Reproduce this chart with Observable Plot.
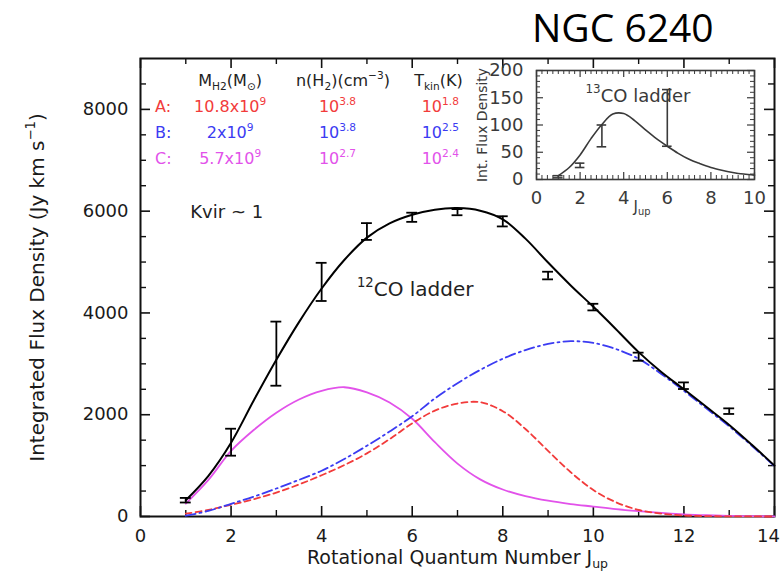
<!DOCTYPE html>
<html>
<head>
<meta charset="utf-8">
<script src="https://cdn.jsdelivr.net/npm/d3@7"></script>
<script src="https://cdn.jsdelivr.net/npm/@observablehq/plot@0.6"></script>
<style>
  body { margin: 0; background: #fff; }
  #wrap { position: relative; width: 784px; height: 572px; overflow: hidden; }
  #main { position: absolute; left: 0; top: 0; }
  #inset { position: absolute; left: 470px; top: 58px; }
  #title { position: absolute; left: 532px; top: 0; margin: 0; font-family: "Open Sans", sans-serif;
           font-weight: 400; font-size: 39px; line-height: normal; color: #000; }
</style>
</head>
<body>
<div id="wrap">
  <div id="main"></div>
  <div id="inset"></div>
  <h1 id="title">NGC 6240</h1>
</div>
<script>
// ---- 12CO ladder: measured line fluxes (Jy km/s) ----
const Jobs = [1, 2, 3, 4, 5, 6, 7, 8, 9, 10, 11, 12, 13];
const flux12 = [320, 1460, 3200, 4610, 5600, 5880, 5980, 5800, 4735, 4115, 3140, 2570, 2070];
const err12 = [45, 265, 630, 375, 165, 90, 60, 100, 75, 65, 80, 65, 55];

// ---- LVG model curves on a common J grid ----
const Jgrid = [1, 1.5, 2, 2.5, 3, 3.5, 4, 4.5, 5, 5.5, 6, 6.5, 7, 7.5, 8, 8.5, 9, 9.5, 10, 10.5, 11, 11.5, 12, 12.5, 13, 13.5, 14];
const fitTotal = [320, 800, 1450, 2280, 3080, 3820, 4480, 5040, 5480, 5760, 5930, 6030, 6060, 6010, 5840, 5460, 4990, 4540, 4120, 3680, 3230, 2840, 2500, 2150, 1800, 1410, 1000];
const fitA = [55, 130, 230, 340, 470, 630, 810, 1010, 1240, 1520, 1830, 2080, 2220, 2245, 2070, 1720, 1290, 870, 520, 280, 130, 55, 20, 8, 3, 1, 0];
const fitB = [15, 110, 250, 390, 550, 720, 900, 1130, 1390, 1670, 1970, 2320, 2620, 2880, 3100, 3270, 3390, 3445, 3410, 3290, 3100, 2800, 2470, 2120, 1770, 1390, 990];
const fitC = [255, 720, 1290, 1700, 2040, 2300, 2470, 2540, 2440, 2240, 1920, 1460, 1040, 730, 530, 400, 310, 245, 195, 145, 105, 70, 40, 25, 12, 6, 3];

// ---- model components ----
const compLabels = ["A:", "B:", "C:"];
const compMass = ["10.8x10^{9}", "2x10^{9}", "5.7x10^{9}"];
const compDensity = ["10^{3.8}", "10^{3.8}", "10^{2.7}"];
const compTkin = ["10^{1.8}", "10^{2.5}", "10^{2.4}"];
const compColors = ["#f23b3b", "#3b3bf2", "#e252ea"];
const headerLabels = ["M_{H2}(M_{⊙})", "n(H_{2})(cm^{−3})", "T_{kin}(K)"];

// ---- 13CO ladder (inset) ----
const Jobs13 = [1, 2, 3, 6];
const flux13 = [5, 26, 80, 113];
const err13 = [2, 4, 20, 52];
const Jgrid13 = [1, 1.5, 2, 2.5, 3, 3.5, 4, 4.5, 5, 5.5, 6, 6.5, 7, 7.5, 8, 8.5, 9, 9.5, 10];
const fit13 = [7, 22, 45, 75, 101, 120, 121, 108, 91, 75, 61, 48, 37, 29, 22, 17, 13, 10, 8];

// ---- axis ticks ----
const xMajorTicks = [0, 2, 4, 6, 8, 10, 12, 14];
const xMinorTicks = [1, 3, 5, 7, 9, 11, 13];
const yMajorTicks = [0, 2000, 4000, 6000, 8000];
const yMinorTicks = [500, 1000, 1500, 2500, 3000, 3500, 4500, 5000, 5500, 6500, 7000, 7500, 8500];
const insetXTicks = [0, 2, 4, 6, 8, 10];
const insetYTicks = [0, 50, 100, 150, 200];

const titleY = "Integrated Flux Density (Jy km s^{−1})";
const titleX = "Rotational Quantum Number J_{up}";

// ---------------------------------------------------------------
const points12 = Jobs.map((J, i) => ({J, flux: flux12[i], err: err12[i]}));
const series = (ys) => Jgrid.map((J, i) => ({J, v: ys[i]}));
const points13 = Jobs13.map((J, i) => ({J, flux: flux13[i], err: err13[i]}));
const curve13 = Jgrid13.map((J, i) => ({J, v: fit13[i]}));

const FONT = "DejaVu Sans";
const plain = d => String(d);

// inward box ticks on all four sides of a frame
function boxTicks(xs, ys, fw, fh, len, color, sw) {
  return [
    Plot.ruleX(xs, {stroke: color, strokeWidth: sw, insetTop: fh - len}),
    Plot.ruleX(xs, {stroke: color, strokeWidth: sw, insetBottom: fh - len}),
    Plot.ruleY(ys, {stroke: color, strokeWidth: sw, insetRight: fw - len}),
    Plot.ruleY(ys, {stroke: color, strokeWidth: sw, insetLeft: fw - len})
  ];
}

// turn ^{...} and _{...} into raised / lowered tspans
function richText(root) {
  root.querySelectorAll("text").forEach(t => {
    const s = t.textContent;
    if (!/[\^_]\{/.test(s)) return;
    const fs = parseFloat(getComputedStyle(t).fontSize) || 16;
    while (t.firstChild) t.removeChild(t.firstChild);
    const re = /([\^_])\{([^}]*)\}/g;
    let last = 0, m, shift = 0;
    const add = (str, mode) => {
      if (!str) return;
      const ts = document.createElementNS("http://www.w3.org/2000/svg", "tspan");
      const target = mode === "^" ? -0.45 * fs : mode === "_" ? 0.25 * fs : 0;
      const dy = target - shift;
      if (dy) ts.setAttribute("dy", dy.toFixed(2));
      shift = target;
      if (mode) ts.setAttribute("font-size", (0.66 * fs).toFixed(1));
      ts.textContent = str;
      t.appendChild(ts);
    };
    while ((m = re.exec(s))) { add(s.slice(last, m.index), null); add(m[2], m[1]); last = re.lastIndex; }
    add(s.slice(last), null);
  });
}

// ---------------- main panel ----------------
const W = 784, H = 572, mL = 140, mR = 10, mT = 58, mB = 56;
const fw = W - mL - mR, fh = H - mT - mB;

// legend table layout (data coordinates)
const colM = 1.98, colN = 4.35, colT = 6.62, colLabel = 0.32;
const headY = 8450, rowY0 = 7940, rowStep = 510;
const headerCols = [1.98, 4.47, 6.58];

const legendRows = compLabels.map((label, i) => ({label, mass: compMass[i], dens: compDensity[i], tk: compTkin[i], color: compColors[i], y: rowY0 - i * rowStep}));

// the last x label sits against the frame edge, so it is pulled slightly inward
const xLabelsInner = xMajorTicks.slice(0, -1);
const xLabelsEdge = xMajorTicks.slice(-1);

const main = Plot.plot({
  width: W, height: H,
  marginLeft: mL, marginRight: mR, marginTop: mT, marginBottom: mB,
  x: {domain: [0, 14]},
  y: {domain: [0, 9000]},
  style: {fontFamily: FONT, color: "#1a1a1a", background: "transparent", overflow: "visible"},
  marks: [
    ...boxTicks(xMajorTicks, yMajorTicks, fw, fh, 10, "#111", 1.6),
    ...boxTicks(xMinorTicks, yMinorTicks, fw, fh, 6, "#111", 1.4),
    Plot.frame({stroke: "#111", strokeWidth: 2}),
    Plot.axisX({ticks: xLabelsInner, tickFormat: plain, tickSize: 0, tickPadding: 13, label: null, fontSize: 18}),
    Plot.axisX({ticks: xLabelsEdge, tickFormat: plain, tickSize: 0, tickPadding: 13, label: null, fontSize: 18, dx: -6}),
    Plot.axisY({ticks: yMajorTicks, tickFormat: plain, tickSize: 0, tickPadding: 12, label: null, fontSize: 18}),
    // model components
    Plot.line(series(fitC), {x: "J", y: "v", stroke: compColors[2], strokeWidth: 1.8, curve: "catmull-rom"}),
    Plot.line(series(fitA), {x: "J", y: "v", stroke: compColors[0], strokeWidth: 1.8, strokeDasharray: "6,4", curve: "catmull-rom"}),
    Plot.line(series(fitB), {x: "J", y: "v", stroke: compColors[1], strokeWidth: 1.8, strokeDasharray: "10,4,2,4", curve: "catmull-rom"}),
    // total fit
    Plot.line(series(fitTotal), {x: "J", y: "v", stroke: "#000", strokeWidth: 2, curve: "catmull-rom"}),
    // data with error bars
    Plot.ruleX(points12, {x: "J", y1: d => d.flux - d.err, y2: d => d.flux + d.err, stroke: "#000", strokeWidth: 1.8}),
    Plot.ruleY(points12, {y: d => d.flux + d.err, x1: d => d.J - 0.12, x2: d => d.J + 0.12, stroke: "#000", strokeWidth: 1.8}),
    Plot.ruleY(points12, {y: d => d.flux - d.err, x1: d => d.J - 0.12, x2: d => d.J + 0.12, stroke: "#000", strokeWidth: 1.8}),
    // legend table
    Plot.text(headerLabels, {x: (d, i) => headerCols[i], y: headY, text: d => d, fontSize: 16, lineAnchor: "bottom", fill: "#222"}),
    Plot.text(legendRows, {x: colLabel, y: "y", text: "label", fill: "color", fontSize: 16, textAnchor: "start", lineAnchor: "bottom"}),
    Plot.text(legendRows, {x: colM, y: "y", text: "mass", fill: "color", fontSize: 16, lineAnchor: "bottom"}),
    Plot.text(legendRows, {x: colN, y: "y", text: "dens", fill: "color", fontSize: 16, lineAnchor: "bottom"}),
    Plot.text(legendRows, {x: colT, y: "y", text: "tk", fill: "color", fontSize: 16, lineAnchor: "bottom"}),
    // annotations
    Plot.text(["Kvir ~ 1"], {x: 1.1, y: 5860, text: d => d, fontSize: 18, textAnchor: "start", lineAnchor: "bottom", fill: "#222"}),
    Plot.text(["^{12}CO ladder"], {x: 4.78, y: 4340, text: d => d, fontSize: 20, textAnchor: "start", lineAnchor: "bottom", fill: "#222"}),
    // axis titles
    Plot.text([titleY], {frameAnchor: "left", rotate: -90, dx: -103, text: d => d, fontSize: 20, textAnchor: "middle", lineAnchor: "middle", fill: "#1a1a1a"}),
    Plot.text([titleX], {frameAnchor: "bottom", dy: 47, text: d => d, fontSize: 19, textAnchor: "middle", lineAnchor: "bottom", fill: "#1a1a1a"})
  ]
});
document.getElementById("main").appendChild(main);
richText(main);

// ---------------- inset: 13CO ladder ----------------
const iW = 300, iH = 165, iL = 66, iR = 16, iT = 12, iB = 44;
const ifw = iW - iL - iR, ifh = iH - iT - iB;
const insetMinorX = d3.range(0, 10.001, 0.25).filter(v => v % 2 !== 0);
const insetMinorY = d3.range(0, 200.001, 10).filter(v => v % 50 !== 0);
const insetInk = "#3a3a3a";

const inset = Plot.plot({
  width: iW, height: iH,
  marginLeft: iL, marginRight: iR, marginTop: iT, marginBottom: iB,
  x: {domain: [0, 10]},
  y: {domain: [0, 200]},
  style: {fontFamily: FONT, color: insetInk, background: "transparent", overflow: "visible"},
  marks: [
    ...boxTicks(insetXTicks, insetYTicks, ifw, ifh, 7, insetInk, 1.2),
    ...boxTicks(insetMinorX, insetMinorY, ifw, ifh, 4, insetInk, 1),
    Plot.frame({stroke: insetInk, strokeWidth: 1.6}),
    Plot.axisX({ticks: insetXTicks, tickFormat: plain, tickSize: 0, tickPadding: 12, label: null, fontSize: 18}),
    Plot.axisY({ticks: insetYTicks, tickFormat: plain, tickSize: 0, tickPadding: 13, label: null, fontSize: 18}),
    Plot.line(curve13, {x: "J", y: "v", stroke: insetInk, strokeWidth: 1.6, curve: "catmull-rom"}),
    Plot.ruleX(points13, {x: "J", y1: d => d.flux - d.err, y2: d => d.flux + d.err, stroke: insetInk, strokeWidth: 1.6}),
    Plot.ruleY(points13, {y: d => d.flux + d.err, x1: d => d.J - 0.22, x2: d => d.J + 0.22, stroke: insetInk, strokeWidth: 1.6}),
    Plot.ruleY(points13, {y: d => d.flux - d.err, x1: d => d.J - 0.22, x2: d => d.J + 0.22, stroke: insetInk, strokeWidth: 1.6}),
    Plot.text(["^{13}CO ladder"], {x: 2.25, y: 143, text: d => d, fontSize: 18, textAnchor: "start", lineAnchor: "bottom", fill: insetInk}),
    Plot.text(["Int. Flux Density"], {frameAnchor: "left", rotate: -90, dx: -54, text: d => d, fontSize: 14, textAnchor: "middle", lineAnchor: "middle", fill: insetInk}),
    Plot.text(["J_{up}"], {x: 4.45, frameAnchor: "bottom", dy: 32, text: d => d, fontSize: 15, textAnchor: "start", lineAnchor: "bottom", fill: insetInk})
  ]
});
document.getElementById("inset").appendChild(inset);
richText(inset);
</script>
</body>
</html>
